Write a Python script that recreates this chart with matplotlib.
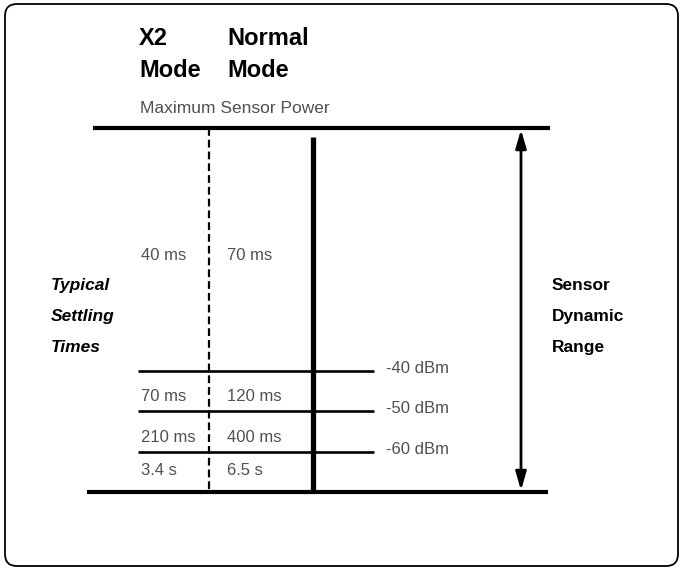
import matplotlib
matplotlib.use('Agg')
import matplotlib.pyplot as plt
from matplotlib import font_manager
from matplotlib.patches import FancyBboxPatch

# diagram content
max_power_dbm = 20
min_power_dbm = -70
levels_dbm = [-40, -50, -60]
level_labels = ['-40 dBm', '-50 dBm', '-60 dBm']
x2_times = ['40 ms', '70 ms', '210 ms', '3.4 s']
normal_times = ['70 ms', '120 ms', '400 ms', '6.5 s']
mode_headers = [['X2', 'Mode'], ['Normal', 'Mode']]
left_label = ['Typical', 'Settling', 'Times']
right_label = ['Sensor', 'Dynamic', 'Range']
top_label = 'Maximum Sensor Power'

# pick a condensed font if there is one
names = {f.name for f in font_manager.fontManager.ttflist}
FONT = 'DejaVu Sans'
for cand in ['Liberation Sans Narrow', 'DejaVu Sans Condensed', 'Liberation Sans']:
    if cand in names:
        FONT = cand
        break
plt.rcParams['font.family'] = [FONT, 'DejaVu Sans']

W, H = 682, 569
fig = plt.figure(figsize=(W / 100, H / 100), dpi=100)

# background axes in pixel units
bg = fig.add_axes([0, 0, 1, 1])
bg.set_xlim(0, W)
bg.set_ylim(H, 0)
bg.axis('off')
bg.add_patch(FancyBboxPatch((5, 4), 673, 562, boxstyle='round,pad=0,rounding_size=12',
                            fc='white', ec='black', lw=1.3))

# diagram axes: y in dBm, top line at px 128, bottom line at px 492
top_px, bot_px = 128, 492
ax = fig.add_axes([0, (H - bot_px) / H, 1, (bot_px - top_px) / H])
ax.set_xlim(0, W)
ax.set_ylim(min_power_dbm, max_power_dbm)
ax.axis('off')
ax.patch.set_alpha(0)

# top / bottom range lines
ax.plot([93, 550], [max_power_dbm] * 2, color='black', lw=3.0, solid_capstyle='butt', clip_on=False)
ax.plot([87, 548], [min_power_dbm] * 2, color='black', lw=3.0, solid_capstyle='butt', clip_on=False)

# X2 dashed divider and normal-mode thick bar
ax.plot([209, 209], [max_power_dbm, min_power_dbm + 0.5], color='black', lw=1.6,
        dashes=(3.5, 1.8))
ax.plot([313, 313], [max_power_dbm - 2.2, min_power_dbm], color='black', lw=3.8,
        solid_capstyle='butt')

# level lines
for lv, lab in zip(levels_dbm, level_labels):
    ax.plot([138, 374], [lv, lv], color='black', lw=1.9, solid_capstyle='butt')
    ax.text(386, lv + 0.6, lab, fontsize=12, color='#505050', va='center', ha='left')

# settling times between levels
bounds = [max_power_dbm] + levels_dbm + [min_power_dbm]
for i, (t2, tn) in enumerate(zip(x2_times, normal_times)):
    mid = (bounds[i] + bounds[i + 1]) / 2
    yy = mid - 1.5 if i < 3 else mid + 0.3
    ax.text(141, yy, t2, fontsize=12, color='#505050', va='center', ha='left')
    ax.text(227, yy, tn, fontsize=12, color='#505050', va='center', ha='left')

# dynamic range arrow
ax.annotate('', xy=(521, max_power_dbm - 0.4), xytext=(521, min_power_dbm + 0.4),
            arrowprops=dict(arrowstyle='<|-|>,head_length=1.1,head_width=0.32',
                            color='black', lw=2.0, shrinkA=0, shrinkB=0))

# headers
for x0, lines in zip([139, 227], mode_headers):
    for j, s in enumerate(lines):
        bg.text(x0, 38 + 32 * j, s, fontsize=17, fontweight='bold', va='center', ha='left')
bg.text(140, 108, top_label, fontsize=12.5, color='#505050', va='center', ha='left')

# side labels
for i, s in enumerate(left_label):
    bg.text(51, 285 + 31 * i, s, fontsize=12.5, fontweight='bold', fontstyle='italic',
            va='center', ha='left')
for i, s in enumerate(right_label):
    bg.text(552, 285 + 31 * i, s, fontsize=12.5, fontweight='bold', va='center', ha='left')

fig.savefig('out.png', dpi=100)
